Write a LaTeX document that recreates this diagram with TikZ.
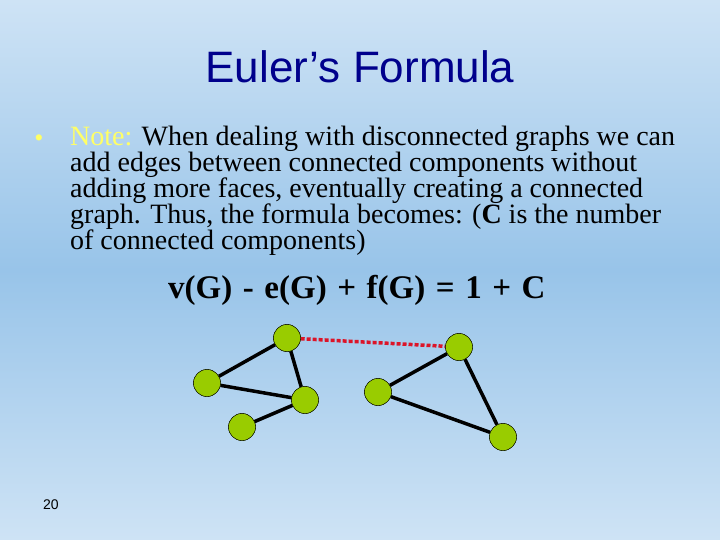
\documentclass[tikz,border=0pt]{standalone}
\usepackage{fontspec}
\setmainfont{Liberation Serif}
\newfontfamily\arialfont{Liberation Sans}
\definecolor{bgtop}{RGB}{206,227,245}
\definecolor{bgmid}{RGB}{152,196,233}
\definecolor{titleblue}{RGB}{0,0,140}
\definecolor{notey}{RGB}{255,255,102}
\definecolor{vgreen}{RGB}{153,204,0}
\definecolor{linkred}{RGB}{220,20,40}
\tikzset{
  vert/.style={circle, draw=black, fill=vgreen, minimum size=27pt, inner sep=0pt},
  edge/.style={line width=3.5pt},
  bridge/.style={linkred, line width=3.5pt, dash pattern=on 4pt off 2pt}
}
\newcommand{\opsp}{\hspace{0.32em}}
\begin{document}
\begin{tikzpicture}[x=1pt, y=-1pt]
  \useasboundingbox (0,0) rectangle (720,540);
  \shade[top color=bgtop, bottom color=bgtop, middle color=bgmid] (0,0) rectangle (720,540);
  % title and text
  \node[anchor=base, titleblue, font=\arialfont\fontsize{44}{44}\selectfont] (title) at (360,83) {Euler’s Formula};
  \node[anchor=base, notey, font=\fontsize{26}{26}\selectfont] (bullet) at (39,147) {•};
  % base anchor sits on the last line
  \node[anchor=base west, align=left, inner sep=0pt, font=\fontsize{28}{25.8}\selectfont] (note) at (70,249)
    {\textcolor{notey}{Note:} When dealing with disconnected graphs we can\\
     add edges between connected components without\\
     adding more faces, eventually creating a connected\\
     graph. Thus, the formula becomes: (\textbf{C} is the number\\
     of connected components)};
  \node[anchor=base west, inner sep=0pt, font=\bfseries\fontsize{33}{33}\selectfont] (formula) at (168,298)
    {v(G)\opsp-\opsp e(G)\opsp+\opsp f(G)\opsp=\opsp 1\opsp+\opsp C};
  \node[anchor=base west, inner sep=0pt, font=\arialfont\fontsize{14}{14}\selectfont] (page) at (43,509) {20};
  % first component
  \node[vert] (a) at (287,338) {};
  \node[vert] (b) at (207,383) {};
  \node[vert] (c) at (305,400) {};
  \node[vert] (d) at (242,427) {};
  % second component
  \node[vert] (e) at (459,347) {};
  \node[vert] (f) at (378,392) {};
  \node[vert] (g) at (503,437) {};
  \draw[edge] (a) -- (b) (a) -- (c) (b) -- (c) (c) -- (d);
  \draw[edge] (e) -- (f) (f) -- (g) (e) -- (g);
  \draw[bridge] (a) -- (e);
  % redraw vertices over the edges
  \foreach \v in {a,b,c,d,e,f,g}
    \node[vert] at (\v) {};
\end{tikzpicture}
\end{document}
